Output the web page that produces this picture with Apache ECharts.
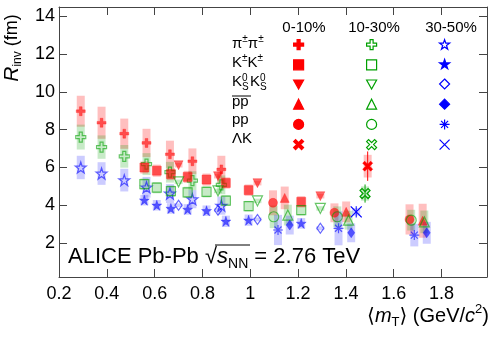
<!DOCTYPE html>
<html>
<head>
<meta charset="utf-8">
<script src="https://cdn.jsdelivr.net/npm/echarts@6/dist/echarts.min.js"></script>
<style>
  html, body { margin: 0; padding: 0; background: #fff; }
  #chart { width: 498px; height: 337px; }
</style>
</head>
<body>
<div id="chart"></div>
<script>
// Rinv vs <mT>, ALICE Pb-Pb 2.76 TeV

const xTicks = [0.2, 0.4, 0.6, 0.8, 1, 1.2, 1.4, 1.6, 1.8];
const yTicks = [2, 4, 6, 8, 10, 12, 14];
const centralities = ['0-10%', '10-30%', '30-50%'];

// pi+- pi+-
const pipiMt = [0.291, 0.378, 0.473, 0.566, 0.664, 0.758, 0.879];
const pipiR = [
  [8.98, 8.37, 7.79, 7.30, 6.70, 6.33, 5.90],
  [7.61, 7.08, 6.59, 6.18, 5.75, 5.30, 5.08],
  [6.00, 5.68, 5.33, 4.95, 4.62, 4.32, 3.98]
];
const pipiSys = [
  [0.82, 0.85, 0.80, 0.75, 0.72, 0.68, 0.72],
  [0.66, 0.62, 0.60, 0.58, 0.55, 0.50, 0.50],
  [0.62, 0.60, 0.60, 0.55, 0.50, 0.48, 0.48]
];

// K+- K+-
const kkMt = [0.557, 0.609, 0.668, 0.738, 0.817, 0.898, 0.993, 1.213];
const kkR = [
  [6.00, 5.83, 5.65, 5.50, 5.36, 5.18, 4.80, 4.18],
  [5.12, 4.93, 4.75, 4.68, 4.71, 4.25, 3.95, 3.74],
  [4.27, 4.00, 3.83, 3.78, 3.71, 3.15, 3.21, 3.04]
];
const kkSys = [
  [0.32, 0.32, 0.32, 0.32, 0.32, 0.30, 0.30, 0.30],
  [0.30, 0.30, 0.30, 0.30, 0.30, 0.28, 0.28, 0.28],
  [0.28, 0.28, 0.28, 0.28, 0.28, 0.30, 0.30, 0.28]
];

// K0s K0s
const k0Mt = [0.700, 0.865, 1.030, 1.293];
const k0R = [
  [6.12, 5.54, 5.17, 4.48],
  [5.24, 4.76, 4.23, 3.83],
  [4.00, 3.74, 3.25, 2.78]
];
const k0Sys = [
  [0.12, 0.12, 0.12, 0.12],
  [0.12, 0.12, 0.12, 0.12],
  [0.10, 0.10, 0.10, 0.10]
];

// pbar pbar
const pbMt = [
  [1.144, 1.401, 1.721],
  [1.157, 1.411, 1.728],
  [1.165, 1.422, 1.738]
];
const pbR = [
  [4.39, 3.65, 3.18],
  [3.48, 3.21, 3.12],
  [2.95, 2.54, 2.54]
];
const pbSys = [
  [0.60, 0.55, 0.90],
  [0.55, 0.50, 0.60],
  [0.50, 0.50, 0.58]
];

// p p
const ppMt = [
  [1.095, 1.352, 1.666],
  [1.098, 1.364, 1.673],
  [1.116, 1.369, 1.686]
];
const ppR = [
  [4.13, 3.60, 3.25],
  [3.39, 3.39, 3.21],
  [2.69, 2.78, 2.42]
];
const ppSys = [
  [0.66, 0.50, 0.80],
  [0.60, 0.55, 0.55],
  [0.80, 0.90, 0.60]
];

// Lambda K
const lkMt = [[1.491], [1.480], [1.443]];
const lkR = [[6.07], [4.62], [3.65]];
const lkStat = [[0.78], [0.48], [0.30]];
const lkSys = [[0.60], [0.38], [0.20]];

const FONT = 'Liberation Sans, Arial, DejaVu Sans, sans-serif';
const colors = ['#ff0000', '#00a000', '#0000ff'];
const boxColors = ['rgba(255,0,0,0.25)', 'rgba(0,160,0,0.22)', 'rgba(0,0,255,0.2)'];
const colX = [298, 371, 444];

// marker shapes
const M = {
  plus: { symbol: 'path://M3.5,0H6.5V3.5H10V6.5H6.5V10H3.5V6.5H0V3.5H3.5Z', size: 9 },
  plusOpen: { symbol: 'path://M3.5,0H6.5V3.5H10V6.5H6.5V10H3.5V6.5H0V3.5H3.5Z', size: 10, open: true },
  star: { symbol: 'path://M5,0L6.2,3.6L10,3.6L6.9,5.9L8.1,9.5L5,7.3L1.9,9.5L3.1,5.9L0,3.6L3.8,3.6Z', size: 10 },
  starOpen: { symbol: 'path://M5,0L6.2,3.6L10,3.6L6.9,5.9L8.1,9.5L5,7.3L1.9,9.5L3.1,5.9L0,3.6L3.8,3.6Z', size: 11, open: true },
  square: { symbol: 'rect', size: 9 },
  squareOpen: { symbol: 'rect', size: 9, open: true },
  triDown: { symbol: 'path://M0,0H10L5,9Z', size: 9 },
  triDownOpen: { symbol: 'path://M0,0H10L5,9Z', size: 10, open: true },
  tri: { symbol: 'triangle', size: 9 },
  triOpen: { symbol: 'triangle', size: 10, open: true },
  diamond: { symbol: 'diamond', size: [7, 10] },
  diamondOpen: { symbol: 'diamond', size: [7, 10], open: true },
  circle: { symbol: 'circle', size: 9 },
  circleOpen: { symbol: 'circle', size: 10, open: true },
  asterisk: { symbol: 'path://M5,0V10M0,5H10M1.5,1.5L8.5,8.5M8.5,1.5L1.5,8.5', size: 10, open: true },
  xFilled: { symbol: 'path://M0,2L2,0L5,3L8,0L10,2L7,5L10,8L8,10L5,7L2,10L0,8L3,5Z', size: 10 },
  xOpen: { symbol: 'path://M0,2L2,0L5,3L8,0L10,2L7,5L10,8L8,10L5,7L2,10L0,8L3,5Z', size: 10, open: true },
  xThin: { symbol: 'path://M0,0L10,10M10,0L0,10', size: 11, open: true }
};

const species = [
  { id: 'pipi', mt: [pipiMt, pipiMt, pipiMt], r: pipiR, sys: pipiSys, marks: [M.plus, M.plusOpen, M.starOpen] },
  { id: 'kk', mt: [kkMt, kkMt, kkMt], r: kkR, sys: kkSys, marks: [M.square, M.squareOpen, M.star] },
  { id: 'k0', mt: [k0Mt, k0Mt, k0Mt], r: k0R, sys: k0Sys, marks: [M.triDown, M.triDownOpen, M.diamondOpen] },
  { id: 'pb', mt: pbMt, r: pbR, sys: pbSys, marks: [M.tri, M.triOpen, M.diamond] },
  { id: 'pp', mt: ppMt, r: ppR, sys: ppSys, marks: [M.circle, M.circleOpen, M.asterisk] },
  { id: 'lk', mt: lkMt, r: lkR, sys: lkSys, stat: lkStat, marks: [M.xFilled, M.xOpen, M.xThin], solid: true }
];

const series = [];

// systematic boxes
species.forEach(sp => {
  sp.r.forEach((vals, c) => {
    series.push({
      type: 'custom',
      name: 'sys_' + sp.id + c,
      silent: true,
      z: 1,
      encode: { x: 0, y: 1 },
      data: vals.map((v, i) => [sp.mt[c][i], v, sp.sys[c][i]]),
      renderItem: function (params, api) {
        const top = api.coord([api.value(0), api.value(1) + api.value(2)]);
        const bot = api.coord([api.value(0), api.value(1) - api.value(2)]);
        return {
          type: 'rect',
          shape: { x: top[0] - 4, y: top[1], width: 8, height: bot[1] - top[1] },
          style: { fill: boxColors[c] }
        };
      }
    });
  });
});

// statistical bars (only visible ones)
species.filter(sp => sp.stat).forEach(sp => {
  sp.r.forEach((vals, c) => {
    series.push({
      type: 'custom',
      name: 'stat_' + sp.id + c,
      silent: true,
      z: 2,
      encode: { x: 0, y: 1 },
      data: vals.map((v, i) => [sp.mt[c][i], v, sp.stat[c][i]]),
      renderItem: function (params, api) {
        const top = api.coord([api.value(0), api.value(1) + api.value(2)]);
        const bot = api.coord([api.value(0), api.value(1) - api.value(2)]);
        return {
          type: 'line',
          shape: { x1: top[0], y1: top[1], x2: bot[0], y2: bot[1] },
          style: { stroke: colors[c], lineWidth: 1 }
        };
      }
    });
  });
});

// markers
species.forEach(sp => {
  sp.r.forEach((vals, c) => {
    const m = sp.marks[c];
    const op = sp.solid ? 1 : 0.6;
    series.push({
      type: 'scatter',
      name: sp.id + c,
      z: 3,
      symbol: m.symbol,
      symbolSize: m.size,
      data: vals.map((v, i) => [sp.mt[c][i], v]),
      itemStyle: m.open
        ? { color: 'rgba(0,0,0,0)', borderColor: colors[c], borderWidth: 1.2, opacity: op }
        : { color: colors[c], borderColor: colors[c], borderWidth: 0.5, opacity: op },
      emphasis: { disabled: true }
    });
  });
});

const axisLineStyle = { color: '#444', width: 1 };

function xAxisDef(pos, labels) {
  return {
    type: 'value', position: pos, min: 0.2, max: 1.99,
    axisLine: { show: true, lineStyle: axisLineStyle },
    axisTick: { show: true, inside: true, length: 8, customValues: xTicks, lineStyle: axisLineStyle },
    axisLabel: { show: labels, customValues: xTicks, fontSize: 18, color: '#000', fontFamily: FONT, margin: 8 },
    splitLine: { show: false }
  };
}
function yAxisDef(pos, labels) {
  return {
    type: 'value', position: pos, min: 0.2, max: 14.5,
    axisLine: { show: true, lineStyle: axisLineStyle },
    axisTick: { show: true, inside: true, length: 8, customValues: yTicks, lineStyle: axisLineStyle },
    axisLabel: { show: labels, customValues: yTicks, fontSize: 18, color: '#000', fontFamily: FONT, margin: 4 },
    splitLine: { show: false }
  };
}

const rowY = [44, 63, 82, 101, 120, 139];
const baseRich = {
  a: { fontSize: 15, fontFamily: FONT, lineHeight: 20, color: '#000' },
  s: { fontSize: 10, fontFamily: FONT, lineHeight: 10, verticalAlign: 'top', color: '#000' }
};

function label(x, y, text, size) {
  return { type: 'text', x: x, y: y, style: { text: text, font: size + 'px ' + FONT, fill: '#000', align: 'left', verticalAlign: 'middle' } };
}

const graphic = [
  // column headers
  { type: 'text', x: 304, y: 28, style: { text: '0-10%', font: '15px ' + FONT, fill: '#000', align: 'center', verticalAlign: 'middle' } },
  { type: 'text', x: 374, y: 28, style: { text: '10-30%', font: '15px ' + FONT, fill: '#000', align: 'center', verticalAlign: 'middle' } },
  { type: 'text', x: 451, y: 28, style: { text: '30-50%', font: '15px ' + FONT, fill: '#000', align: 'center', verticalAlign: 'middle' } },
  // row labels
  { type: 'text', x: 232, y: rowY[0], style: { text: '{a|π}{s|±}{a|π}{s|±}', rich: baseRich, align: 'left', verticalAlign: 'middle' } },
  { type: 'text', x: 232, y: rowY[1], style: { text: '{a|K}{s|±}{a|K}{s|±}', rich: baseRich, align: 'left', verticalAlign: 'middle' } },
  label(232, rowY[2], 'K', 15),
  label(242, rowY[2] - 4, '0', 10),
  label(242, rowY[2] + 5, 'S', 10),
  label(250, rowY[2], 'K', 15),
  label(260, rowY[2] - 4, '0', 10),
  label(260, rowY[2] + 5, 'S', 10),
  label(232, rowY[3] + 1, 'pp', 15),
  { type: 'line', shape: { x1: 232, y1: 96, x2: 251, y2: 96 }, style: { stroke: '#000', lineWidth: 1 } },
  label(232, rowY[4], 'pp', 15),
  label(232, rowY[5], 'ΛK', 15),
  // ALICE label
  {
    type: 'text', x: 68, y: 257,
    style: {
      text: '{a|ALICE Pb-Pb }{r|√}{i|s}{sub|NN}{a| = 2.76 TeV}',
      align: 'left', verticalAlign: 'middle',
      rich: {
        a: { fontSize: 22, fontFamily: FONT, lineHeight: 28, color: '#000' },
        r: { fontSize: 22, fontFamily: FONT, lineHeight: 28, color: '#000' },
        i: { fontSize: 22, fontFamily: FONT, fontStyle: 'italic', lineHeight: 28, color: '#000' },
        sub: { fontSize: 14, fontFamily: FONT, lineHeight: 13, verticalAlign: 'bottom', color: '#000' }
      }
    }
  },
  { type: 'line', shape: { x1: 215, y1: 245, x2: 250, y2: 245 }, style: { stroke: '#000', lineWidth: 1 } },
  // x axis title
  {
    type: 'text', x: 489, y: 316,
    style: {
      text: '{a|⟨}{i|m}{sub|T}{a|⟩ (GeV/}{i|c}{sup|2}{a|)}',
      align: 'right', verticalAlign: 'middle',
      rich: {
        a: { fontSize: 20, fontFamily: FONT, lineHeight: 26, color: '#000' },
        i: { fontSize: 20, fontFamily: FONT, fontStyle: 'italic', lineHeight: 26, color: '#000' },
        sub: { fontSize: 13, fontFamily: FONT, lineHeight: 13, verticalAlign: 'bottom', color: '#000' },
        sup: { fontSize: 13, fontFamily: FONT, lineHeight: 13, verticalAlign: 'top', color: '#000' }
      }
    }
  },
  // y axis title
  {
    type: 'text', x: 12, y: 48, rotation: Math.PI / 2,
    style: {
      text: '{i|R}{sub|inv}{a| (fm)}',
      align: 'center', verticalAlign: 'middle',
      rich: {
        a: { fontSize: 18, fontFamily: FONT, lineHeight: 24, color: '#000' },
        i: { fontSize: 21, fontFamily: FONT, fontStyle: 'italic', lineHeight: 24, color: '#000' },
        sub: { fontSize: 12, fontFamily: FONT, lineHeight: 12, verticalAlign: 'bottom', color: '#000' }
      }
    }
  }
];

const chart = echarts.init(document.getElementById('chart'));
chart.setOption({
  animation: false,
  backgroundColor: '#fff',
  grid: { left: 59, right: 11, top: 7, bottom: 60 },
  xAxis: [xAxisDef('bottom', true), xAxisDef('top', false)],
  yAxis: [yAxisDef('left', true), yAxisDef('right', false)],
  legend: centralities.map((cName, c) => ({
    orient: 'vertical',
    left: colX[c] - 5,
    top: rowY[0] - 5,
    padding: 0,
    itemGap: 9,
    itemWidth: 10,
    itemHeight: 10,
    selectedMode: false,
    data: species.map(sp => sp.id + c),
    formatter: () => '',
    textStyle: { fontSize: 1, lineHeight: 1 },
    itemStyle: { opacity: 1, borderWidth: 1.2 }
  })),
  graphic: graphic,
  series: series
});
</script>
</body>
</html>
